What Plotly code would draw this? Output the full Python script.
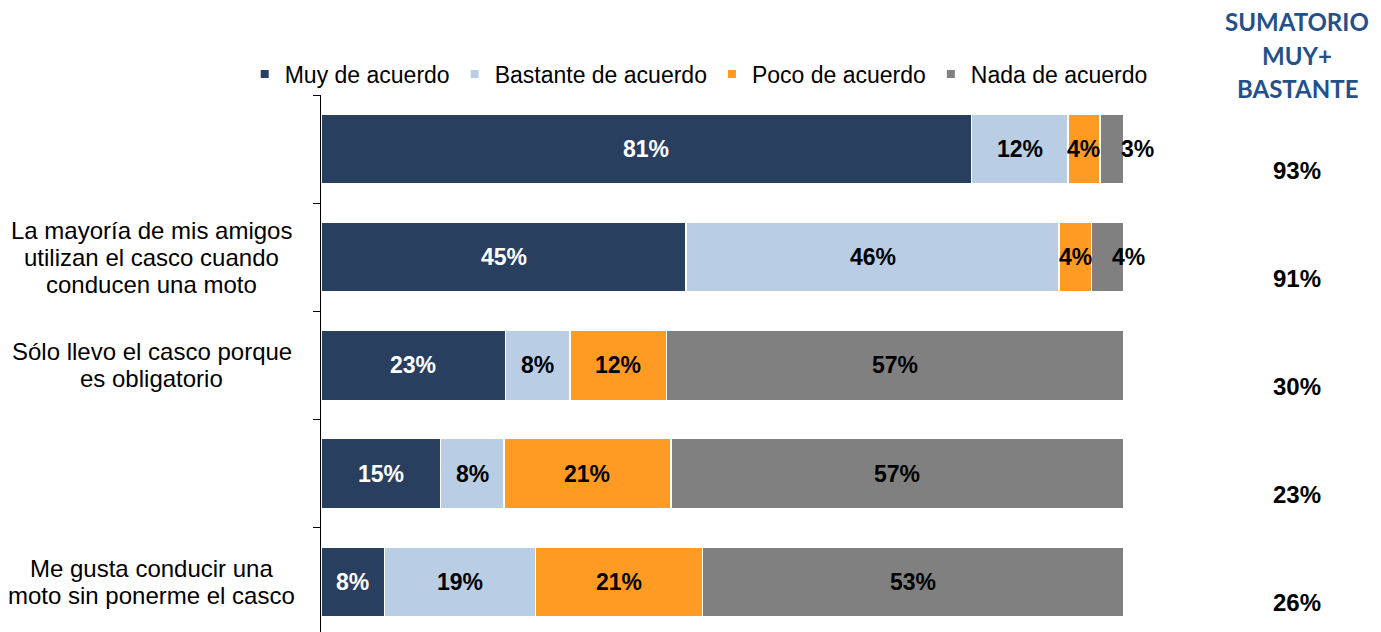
import plotly.graph_objects as go

# Statements (top to bottom); two rows have no label text
categories = [
    "",
    "La mayoría de mis amigos<br>utilizan el casco cuando<br>conducen una moto",
    "Sólo llevo el casco porque<br>es obligatorio",
    "",
    "Me gusta conducir una<br>moto sin ponerme el casco",
]
series_names = ["Muy de acuerdo", "Bastante de acuerdo", "Poco de acuerdo", "Nada de acuerdo"]
muy = [81, 45, 23, 15, 8]
bastante = [12, 46, 8, 8, 19]
poco = [4, 4, 12, 21, 21]
nada = [3, 4, 57, 57, 53]
sumatorio = [93, 91, 30, 23, 26]
header_lines = ["SUMATORIO", "MUY+", "BASTANTE"]

series_values = [muy, bastante, poco, nada]
colors = ["#283F60", "#B9CDE5", "#FF9B22", "#808080"]
label_colors = ["white", "black", "black", "black"]
FONT = "Liberation Sans, Arial, sans-serif"

rows = list(range(len(categories)))

fig = go.Figure()
for name, vals, col in zip(series_names, series_values, colors):
    fig.add_trace(go.Bar(
        x=vals, y=rows, orientation="h", name=name,
        marker=dict(color=col, line=dict(color="white", width=1.5)),
        showlegend=False, hoverinfo="name+x",
    ))
    # small square legend entries
    fig.add_trace(go.Scatter(
        x=[None], y=[None], mode="markers", name=name,
        marker=dict(symbol="square", size=8, color=col),
        showlegend=True,
    ))

annotations = []

# segment labels placed at the middle of each normalised segment
label_xshift = {(0, 3): 26, (1, 3): 21}
for r in rows:
    total = sum(s[r] for s in series_values)
    cum = 0.0
    for si, s in enumerate(series_values):
        share = s[r] / total * 100
        annotations.append(dict(
            x=cum + share / 2, y=r, xref="x", yref="y",
            text=f"{s[r]}%", showarrow=False,
            xshift=label_xshift.get((r, si), 0),
            font=dict(family=FONT, size=23, color=label_colors[si], weight="bold"),
        ))
        cum += share

# category labels, centred lines with tight spacing
LINE_PITCH = 27
for r, lab in enumerate(categories):
    if not lab:
        continue
    lines = lab.split("<br>")
    n = len(lines)
    for j, line in enumerate(lines):
        annotations.append(dict(
            x=-0.2105, y=r, xref="paper", yref="y", xanchor="center",
            text=line, showarrow=False,
            yshift=((n - 1) / 2 - j) * LINE_PITCH,
            font=dict(family=FONT, size=24, color="black"),
        ))

# right-hand column: Muy + Bastante totals
for r, v in enumerate(sumatorio):
    annotations.append(dict(
        x=1.2154, y=r, xref="paper", yref="y", xanchor="center",
        text=f"{v}%", showarrow=False, yshift=-21,
        font=dict(family=FONT, size=24, color="black", weight="bold"),
    ))

for j, line in enumerate(header_lines):
    annotations.append(dict(
        x=1.2155, y=1 + (95 - (22 + 33.5 * j)) / 537, xref="paper", yref="paper",
        xanchor="center", yanchor="middle", text=line, showarrow=False,
        font=dict(family="Lato, Carlito, sans-serif", size=24, color="#24508A", weight="bold"),
    ))

fig.update_layout(
    width=1381, height=632,
    margin=dict(l=321, r=257, t=95, b=0),
    paper_bgcolor="white", plot_bgcolor="white",
    barmode="stack", barnorm="percent", bargap=0.355,
    showlegend=True,
    legend=dict(
        orientation="h", x=-0.095, y=1 + (95 - 74) / 537,
        xanchor="left", yanchor="middle", traceorder="normal",
        font=dict(family=FONT, size=23, color="black"),
        itemwidth=30, tracegroupgap=0, bgcolor="rgba(0,0,0,0)",
    ),
    xaxis=dict(range=[0, 100], visible=False, fixedrange=True),
    yaxis=dict(
        range=[4.465, -0.5], tickvals=[-0.5, 0.5, 1.5, 2.5, 3.5],
        ticktext=[""] * 5, ticks="outside", ticklen=7, tickcolor="black",
        showline=True, linecolor="black", linewidth=1.2,
        showgrid=False, zeroline=False, fixedrange=True,
    ),
    annotations=annotations,
)

fig.write_html("out.html")
